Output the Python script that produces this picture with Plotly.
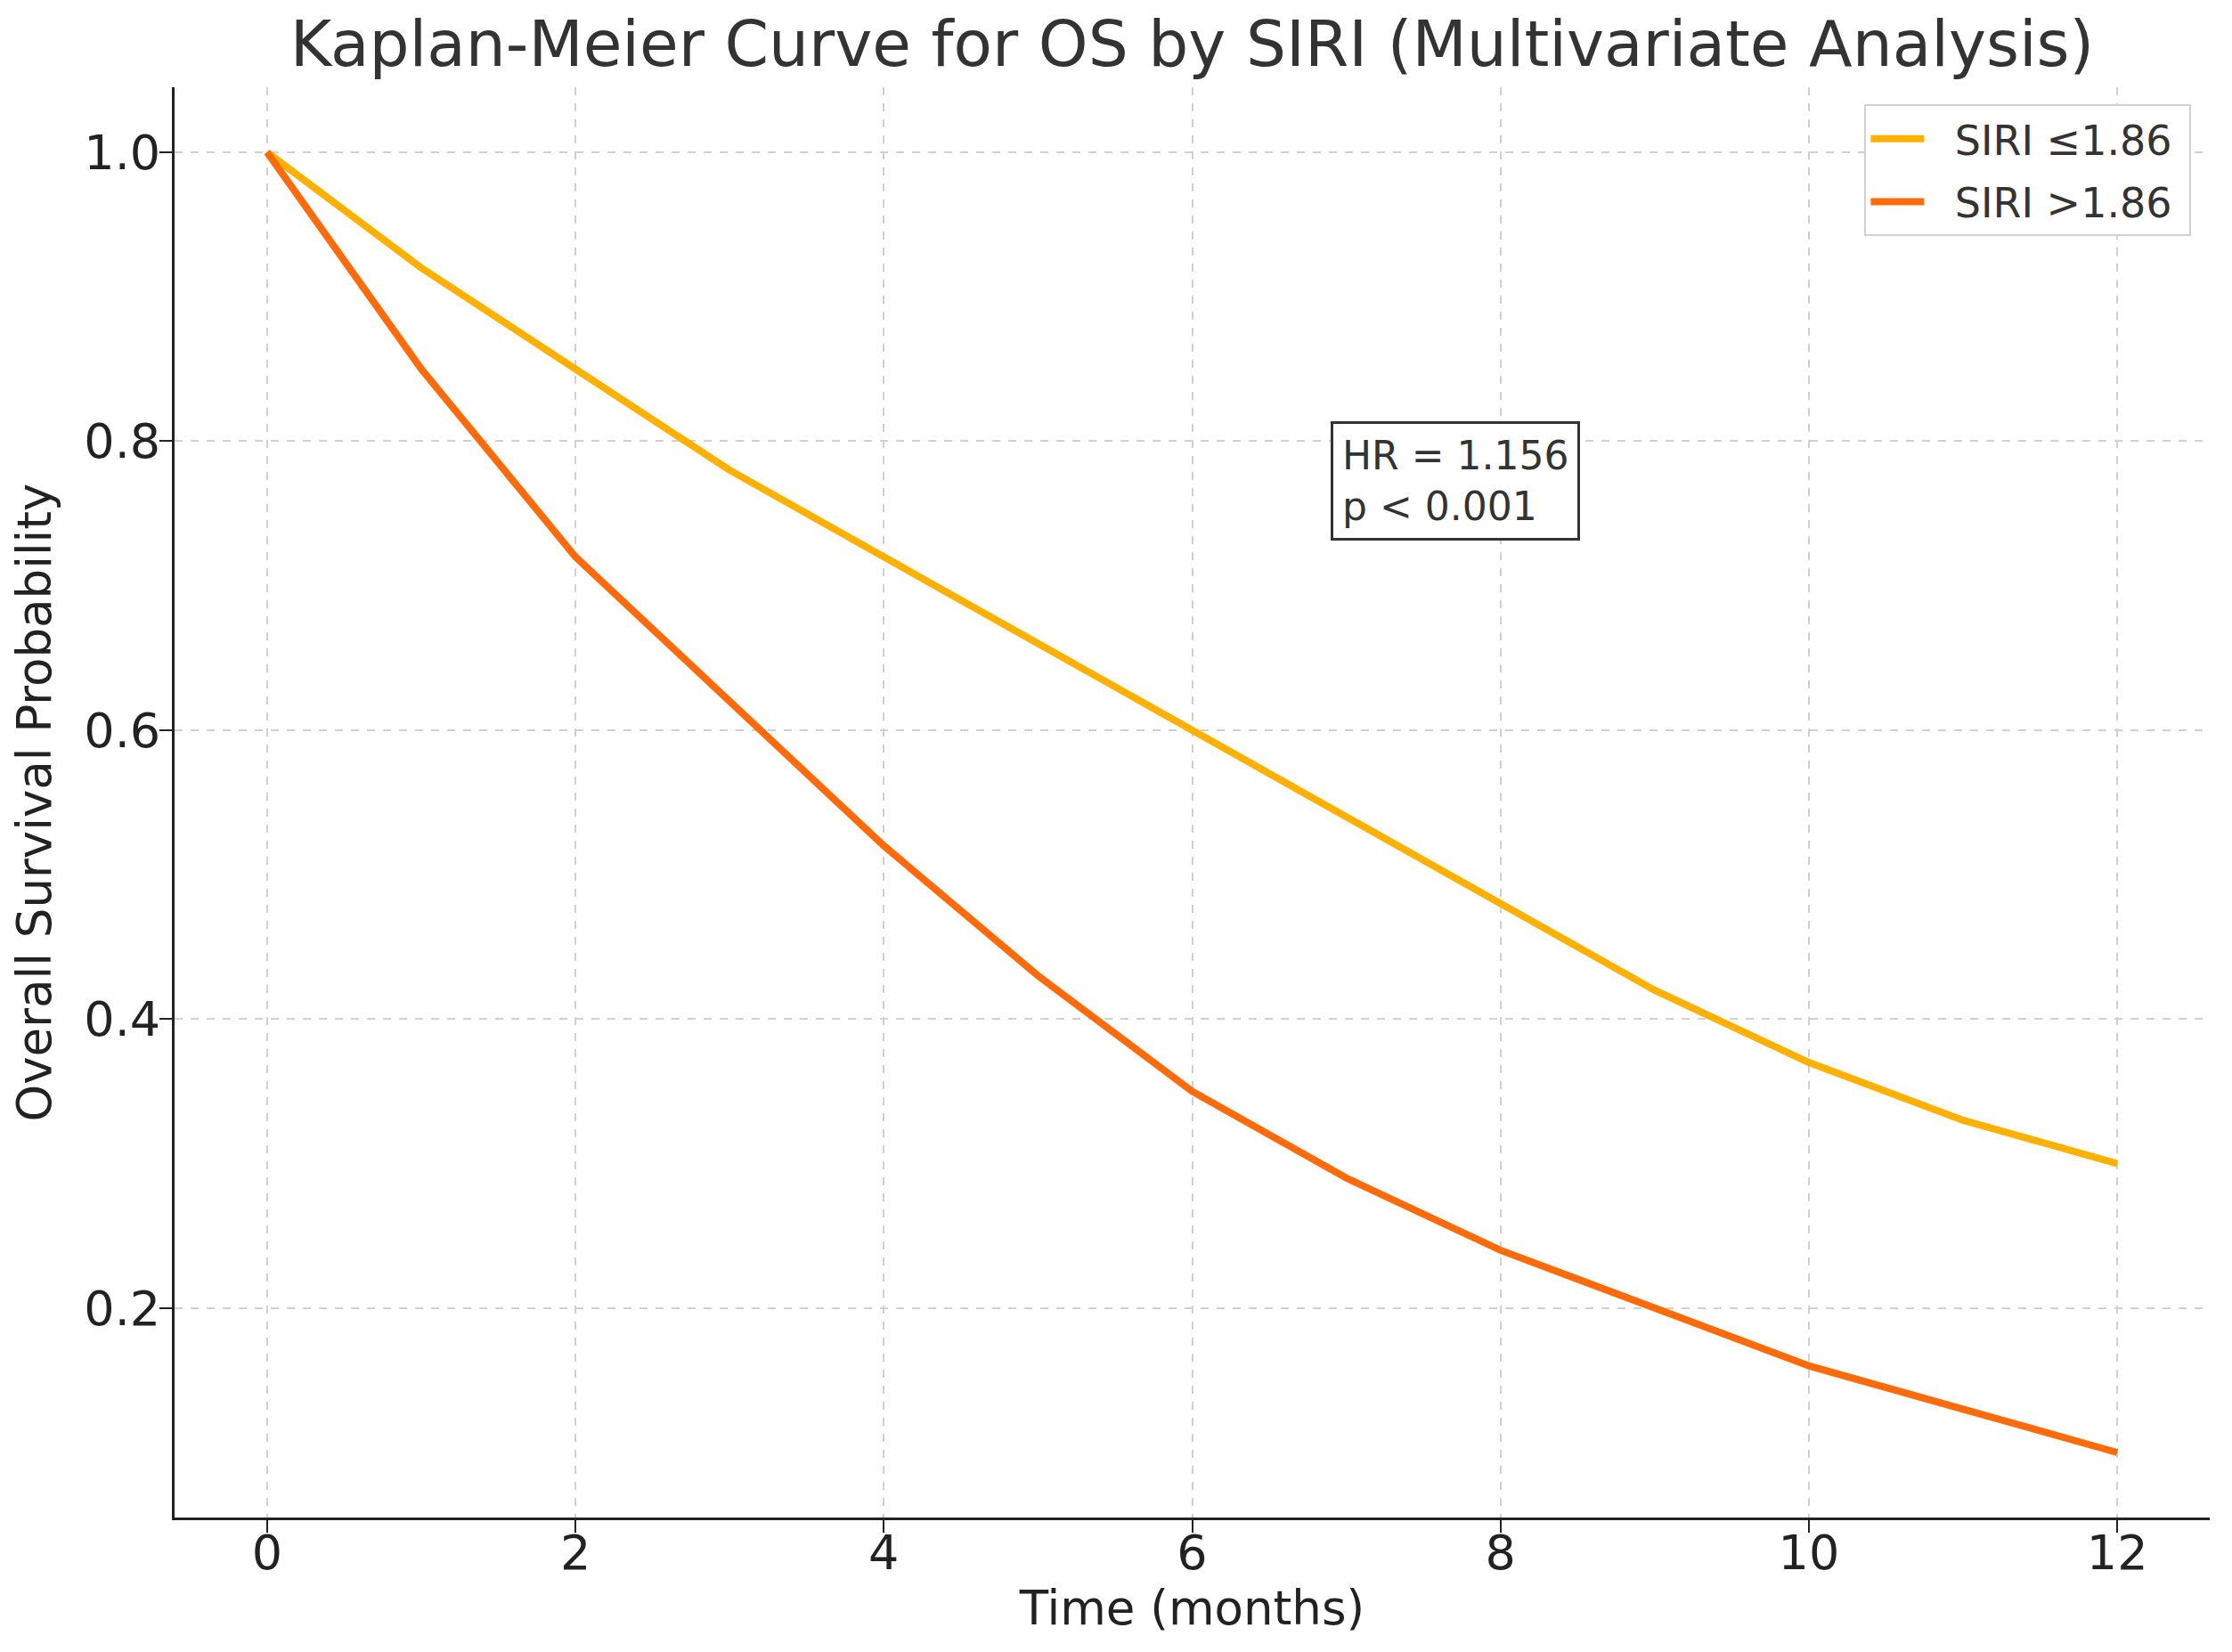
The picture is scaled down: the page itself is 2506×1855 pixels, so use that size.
import plotly.graph_objects as go

# === Дані кривих ===
months = [0, 1, 2, 3, 4, 5, 6, 7, 8, 9, 10, 11, 12]
siri_low = [1.0, 0.92, 0.85, 0.78, 0.72, 0.66, 0.60, 0.54, 0.48, 0.42, 0.37, 0.33, 0.30]
siri_high = [1.0, 0.85, 0.72, 0.62, 0.52, 0.43, 0.35, 0.29, 0.24, 0.20, 0.16, 0.13, 0.10]
series_names = ["SIRI ≤1.86", "SIRI >1.86"]
x_ticks = [0, 2, 4, 6, 8, 10, 12]
y_ticks = [0.2, 0.4, 0.6, 0.8, 1.0]
stats_text = "HR = 1.156<br>p < 0.001"

font_family = "DejaVu Sans"
text_color = "#222222"
pad = "\u00a0\u00a0"  # невеликий відступ між лінією та підписом у легенді

fig = go.Figure()
fig.add_trace(go.Scatter(x=months, y=siri_low, mode="lines", name=pad + series_names[0] + "\u00a0",
                         legendgroup="low",
                         line=dict(color="#FFB000", width=8)))
fig.add_trace(go.Scatter(x=months, y=siri_high, mode="lines", name=pad + series_names[1] + "\u00a0",
                         legendgroup="high",
                         line=dict(color="#FF6A0A", width=8)))

fig.add_annotation(
    x=6.9, y=0.814, xref="x", yref="y",
    xanchor="left", yanchor="top", align="left",
    text=stats_text, showarrow=False,
    font=dict(family=font_family, size=44, color="#333333"),
    bordercolor="#333333", borderwidth=3, borderpad=10, bgcolor="white",
)

axis_common = dict(
    showgrid=True, gridcolor="#d0d0d0", griddash="dash", gridwidth=1.5,
    showline=True, linecolor="#222222", linewidth=3,
    ticks="outside", ticklen=14, tickwidth=2, tickcolor="#222222",
    tickfont=dict(family=font_family, size=54, color=text_color),
    zeroline=False,
)

fig.update_layout(
    width=2506, height=1855,
    paper_bgcolor="white", plot_bgcolor="white",
    margin=dict(l=188, r=33, t=90, b=159),
    title=dict(text="Kaplan-Meier Curve for OS by SIRI (Multivariate Analysis)",
               x=0.5, xref="paper", xanchor="center", y=0.978, yanchor="middle",
               font=dict(family=font_family, size=71, color="#333333")),
    xaxis=dict(axis_common, range=[-0.6, 12.6], tickvals=x_ticks,
               ticklabelstandoff=-24,
               title=dict(text="Time (months)", standoff=4,
                          font=dict(family=font_family, size=53, color=text_color))),
    yaxis=dict(axis_common, range=[0.055, 1.045], tickvals=y_ticks,
               tickformat=".1f", ticklabelstandoff=-12,
               title=dict(text="Overall Survival Probability", standoff=24,
                          font=dict(family=font_family, size=53, color=text_color))),
    legend=dict(x=0.991, y=0.988, xanchor="right", yanchor="top",
                bordercolor="#d0d0d0", borderwidth=2, bgcolor="white",
                font=dict(family=font_family, size=46, color="#333333"),
                tracegroupgap=8, itemwidth=60),
    showlegend=True,
)

fig.write_html("out.html")
